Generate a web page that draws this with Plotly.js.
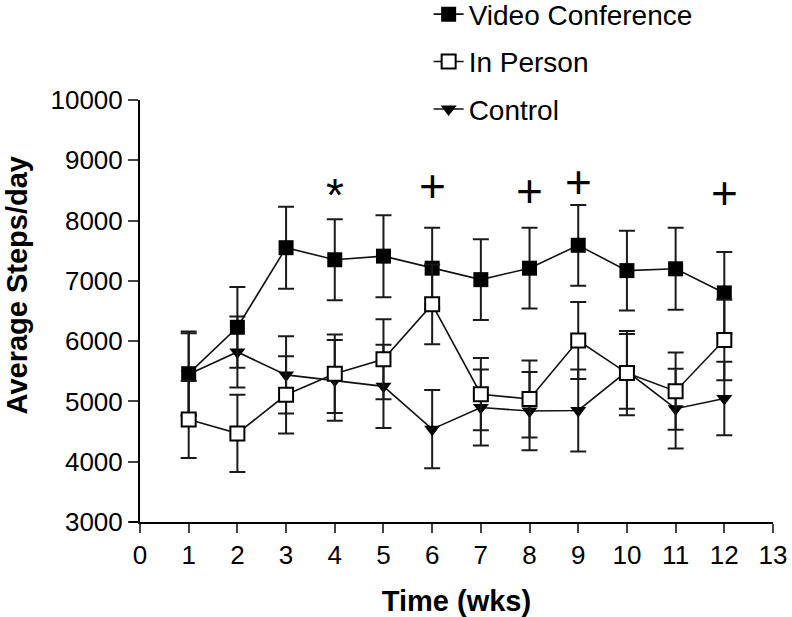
<!DOCTYPE html>
<html>
<head>
<meta charset="utf-8">
<script src="https://cdn.plot.ly/plotly-3.0.1.min.js"></script>
<style>html,body{margin:0;padding:0;background:#fff;}#chart{width:792px;height:617px;}</style>
</head>
<body>
<div id="chart"></div>
<script>
const weeks = [1, 2, 3, 4, 5, 6, 7, 8, 9, 10, 11, 12];
const videoConf = [5460, 6230, 7550, 7350, 7410, 7210, 7020, 7210, 7590, 7170, 7200, 6800];
const videoConfErr = [700, 670, 680, 670, 680, 670, 670, 670, 670, 660, 680, 680];
const inPerson = [4700, 4470, 5110, 5460, 5700, 6610, 5120, 5040, 6010, 5470, 5170, 6020];
const inPersonErr = [640, 640, 640, 650, 665, 660, 600, 640, 640, 700, 640, 670];
const control = [5450, 5820, 5440, 5350, 5250, 4540, 4900, 4840, 4850, 5500, 4880, 5050];
const controlErr = [680, 590, 640, 670, 690, 650, 630, 650, 680, 620, 660, 610];
const sigWeeks = [4, 6, 8, 9, 12];
const sigLabels = ['*', '+', '+', '+', '+'];
const sigY = [8430, 8570, 8490, 8640, 8450];
const xTicks = [0,1,2,3,4,5,6,7,8,9,10,11,12,13];
const yTicks = [3000,4000,5000,6000,7000,8000,9000,10000];

const FONT = 'Liberation Sans, Arial, Helvetica, sans-serif';
function errBar(arr){
  return {type:'data', array: arr, visible:true, color:'#1a1a1a', thickness:2, width:8};
}
const traces = [
  {x: weeks, y: control, name: 'Control', mode: 'lines+markers', legendrank: 3, legendgroup:'c',
   line:{color:'#111', width:1.6},
   marker:{symbol:'triangle-down', size:14, color:'#000'},
   error_y: errBar(controlErr)},
  {x: weeks, y: videoConf, name: 'Video Conference', mode: 'lines+markers', legendrank: 1, legendgroup:'v',
   line:{color:'#111', width:1.6},
   marker:{symbol:'square', size:15, color:'#000'},
   error_y: errBar(videoConfErr)},
  {x: weeks, y: inPerson, name: 'In Person', mode: 'lines+markers', legendrank: 2, legendgroup:'p',
   line:{color:'#111', width:1.6},
   marker:{symbol:'square', size:14, color:'#fff', line:{color:'#000', width:2}},
   error_y: errBar(inPersonErr)}
];
const annotations = sigWeeks.map((w,i)=>({
  x: w, y: sigY[i], xref:'x', yref:'y', text: sigLabels[i], showarrow:false,
  font:{family:FONT, size:46, color:'#000'}
}));
annotations.push({
  xref:'paper', yref:'paper', x: -0.194, y: 0.561, xanchor:'center', yanchor:'middle',
  text:'<b>Average Steps/day</b>', textangle:-90, showarrow:false,
  font:{family:FONT, size:29, color:'#000'}
});
const layout = {
  width: 792, height: 617,
  margin: {l: 140, r: 19, t: 100, b: 95, autoexpand: false},
  paper_bgcolor:'#fff', plot_bgcolor:'#fff',
  font: {family: FONT, color:'#000', size: 26},
  showlegend: true,
  legend: {x: 0.456, y: 1.262, xanchor:'left', yanchor:'top', traceorder:'grouped', tracegroupgap: 8,
           font:{family:FONT, size:28, color:'#000'}, bgcolor:'rgba(0,0,0,0)'},
  xaxis: {range:[0,13], tickvals: xTicks, ticktext: xTicks.map(String), ticks:'outside', ticklen:9, tickwidth:2,
          showline:true, linewidth:2, linecolor:'#000', showgrid:false, zeroline:false,
          tickfont:{family:FONT, size:26},
          title:{text:'<b>Time (wks)</b>', font:{family:FONT, size:29}, standoff: 22}},
  yaxis: {range:[3000,10000], tickvals: yTicks, ticktext: yTicks.map(String), ticks:'outside', ticklen:10, tickwidth:2,
          showline:true, linewidth:2, linecolor:'#000', showgrid:false, zeroline:false,
          tickfont:{family:FONT, size:26}},
  shapes: [{type:'line', xref:'paper', yref:'paper', x0:-0.017, x1:0, y0:0, y1:0, line:{color:'#000', width:2}}],
  annotations: annotations
};
Plotly.newPlot('chart', traces, layout, {staticPlot:true, displayModeBar:false});
</script>
</body>
</html>
